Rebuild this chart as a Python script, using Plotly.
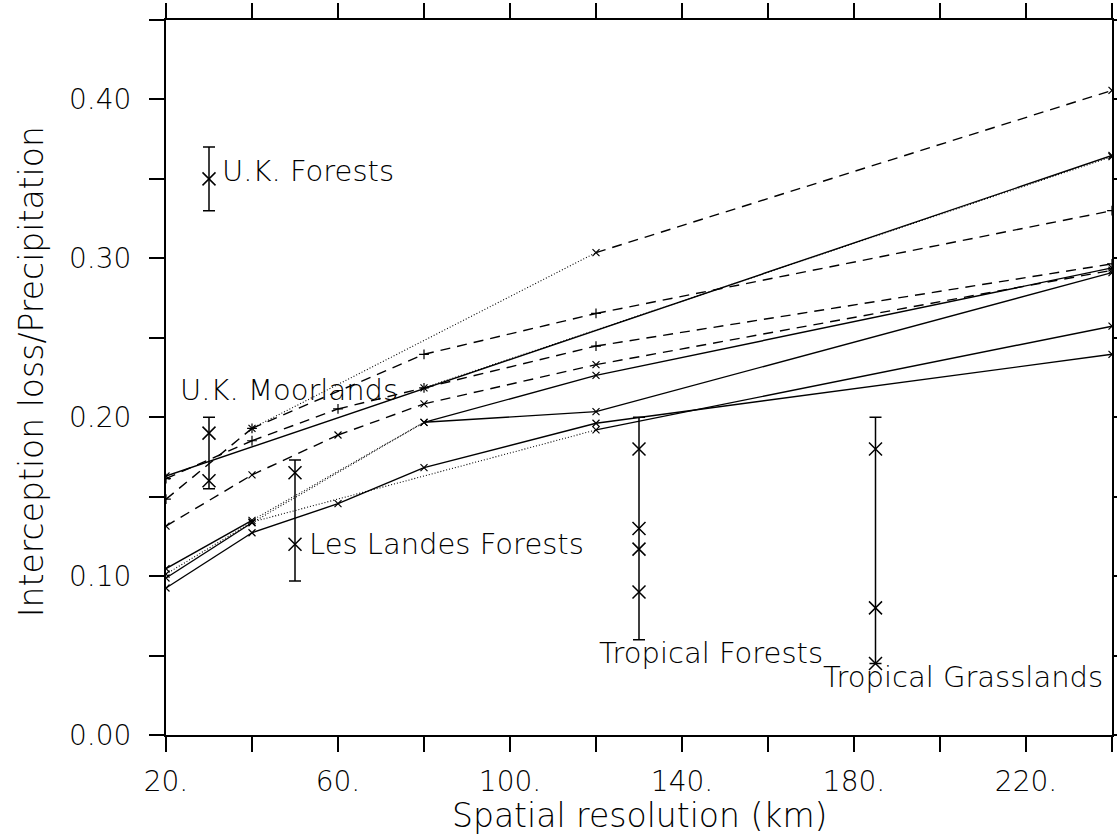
import plotly.graph_objects as go

# ---------------- axis ticks ----------------
X_TICKS = [20, 40, 60, 80, 100, 120, 140, 160, 180, 200, 220, 240]
X_TICK_TEXT = ["20.", "", "60.", "", "100.", "", "140.", "", "180.", "", "220.", ""]
Y_TICKS = [0.0, 0.05, 0.10, 0.15, 0.20, 0.25, 0.30, 0.35, 0.40, 0.45]
Y_TICK_TEXT = ["0.00", "", "0.10", "", "0.20", "", "0.30", "", "0.40", ""]

# ---------------- model series (x = resolution km, y = ratio) ----------------
solid_a_x = [20, 240]
solid_a_y = [0.163, 0.3647]

dotted_a_x = [80, 240]
dotted_a_y = [0.2185, 0.3640]

dash_plus_a_x = [20, 40, 60, 80, 120, 240]
dash_plus_a_y = [0.1614, 0.1852, 0.2052, 0.2185, 0.2448, 0.2965]

dash_plus_b_x = [20, 40, 80, 120, 240]
dash_plus_b_y = [0.1484, 0.1930, 0.2396, 0.2653, 0.3300]

dot_dash_x = [40, 120, 240]
dot_dash_y = [0.1930, 0.3036, 0.4057]

dash_cross_x = [20, 40, 60, 80, 120, 240]
dash_cross_y = [0.1315, 0.1637, 0.1888, 0.2084, 0.2331, 0.2925]

solid_b_x = [20, 40, 60, 80, 120, 240]
solid_b_y = [0.0925, 0.1273, 0.1456, 0.1683, 0.1962, 0.2396]

solid_c_x = [20, 40, 80, 120, 240]
solid_c_y = [0.1047, 0.1351, 0.1968, 0.2263, 0.2940]

solid_d_x = [20, 40, 80, 120, 240]
solid_d_y = [0.0988, 0.1336, 0.1968, 0.2035, 0.2910]

dot_solid_x = [20, 40, 120, 240]
dot_solid_y = [0.1013, 0.1340, 0.1920, 0.2573]

# ---------------- observations ----------------
uk_forest_x = 30
uk_forest_y = [0.35]
uk_forest_range = [0.33, 0.37]

uk_moor_x = 30
uk_moor_y = [0.19, 0.16]
uk_moor_range = [0.155, 0.20]

landes_x = 50
landes_y = [0.165, 0.12]
landes_range = [0.097, 0.173]

trop_forest_x = 130
trop_forest_y = [0.18, 0.13, 0.117, 0.09]
trop_forest_range = [0.06, 0.20]

trop_grass_x = 185
trop_grass_y = [0.18, 0.08, 0.045]
trop_grass_range = [0.045, 0.20]

# ---------------- styling ----------------
FONT = "DejaVu Sans"
DASH = "10px,7px"
DOT = "1px,2px"
SOLID = "solid"

series = [
    (solid_a_x, solid_a_y, [SOLID], "x-thin-open"),
    (dotted_a_x, dotted_a_y, [DOT], "x-thin-open"),
    (dash_plus_a_x, dash_plus_a_y, [DASH] * 5, "cross-thin-open"),
    (dash_plus_b_x, dash_plus_b_y, [DASH] * 4, "cross-thin-open"),
    (dot_dash_x, dot_dash_y, [DOT, DASH], "x-thin-open"),
    (dash_cross_x, dash_cross_y, [DASH] * 5, "x-thin-open"),
    (solid_b_x, solid_b_y, [SOLID] * 5, "x-thin-open"),
    (solid_c_x, solid_c_y, [SOLID, DOT, SOLID, SOLID], "x-thin-open"),
    (solid_d_x, solid_d_y, [SOLID, DOT, SOLID, SOLID], "x-thin-open"),
    (dot_solid_x, dot_solid_y, [DOT, DOT, SOLID], "x-thin-open"),
]

fig = go.Figure()

for xs, ys, dashes, sym in series:
    for i, d in enumerate(dashes):
        fig.add_trace(go.Scatter(
            x=xs[i:i + 2], y=ys[i:i + 2], mode="lines",
            line=dict(color="black", width=1.4 if d != DOT else 1.1, dash=d),
            showlegend=False, hoverinfo="skip"))
    fig.add_trace(go.Scatter(
        x=xs, y=ys, mode="markers",
        marker=dict(symbol=sym, size=7, color="black", line=dict(color="black", width=1.2)),
        showlegend=False, hoverinfo="skip"))

obs = [
    (uk_forest_x, uk_forest_y, uk_forest_range),
    (uk_moor_x, uk_moor_y, uk_moor_range),
    (landes_x, landes_y, landes_range),
    (trop_forest_x, trop_forest_y, trop_forest_range),
    (trop_grass_x, trop_grass_y, trop_grass_range),
]
for ox, oys, (lo, hi) in obs:
    mid = (lo + hi) / 2
    fig.add_trace(go.Scatter(
        x=[ox], y=[mid], mode="markers",
        marker=dict(size=1, opacity=0),
        error_y=dict(type="data", array=[(hi - lo) / 2], color="black", thickness=1.5, width=6),
        showlegend=False, hoverinfo="skip"))
    fig.add_trace(go.Scatter(
        x=[ox] * len(oys), y=oys, mode="markers",
        marker=dict(symbol="x-thin-open", size=13, color="black", line=dict(color="black", width=1.5)),
        showlegend=False, hoverinfo="skip"))

labels = [
    ("U.K. Forests", 32.6, 0.3548),
    ("U.K. Moorlands", 22.8, 0.2170),
    ("Les Landes Forests", 52.9, 0.1201),
    ("Tropical Forests", 120.2, 0.0518),
    ("Tropical Grasslands", 172.3, 0.0367),
]
for txt, lx, ly in labels:
    fig.add_annotation(x=lx, y=ly, xref="x", yref="y", text=txt, showarrow=False,
                       xanchor="left", yanchor="middle",
                       font=dict(family=FONT, size=29, color="black", weight=200))

fig.add_annotation(x=0.5, y=-0.112, xref="paper", yref="paper",
                   text="Spatial resolution (km)", showarrow=False,
                   xanchor="center", yanchor="middle",
                   font=dict(family=FONT, size=33, color="black", weight=200))
fig.add_annotation(x=-0.1415, y=0.5077, xref="paper", yref="paper",
                   text="Interception loss/Precipitation", showarrow=False, textangle=-90,
                   xanchor="center", yanchor="middle",
                   font=dict(family=FONT, size=33, color="black", weight=200))

axis_common = dict(showline=True, linecolor="black", linewidth=2, mirror="ticks",
                   ticks="outside", ticklen=15, tickwidth=1.5, tickcolor="black",
                   showgrid=False, zeroline=False, automargin=False,
                   tickfont=dict(family=FONT, size=28, color="black", weight=200))

fig.update_layout(
    width=1117, height=839,
    margin=dict(l=166, r=5, t=20, b=104),
    paper_bgcolor="white", plot_bgcolor="white",
    xaxis=dict(range=[20, 240], tickmode="array", tickvals=X_TICKS, ticktext=X_TICK_TEXT,
               ticklabelstandoff=5, **axis_common),
    yaxis=dict(range=[0, 0.45], tickmode="array", tickvals=Y_TICKS, ticktext=Y_TICK_TEXT,
               ticklabelstandoff=12, **axis_common),
    showlegend=False,
)

fig.write_html("out.html")
